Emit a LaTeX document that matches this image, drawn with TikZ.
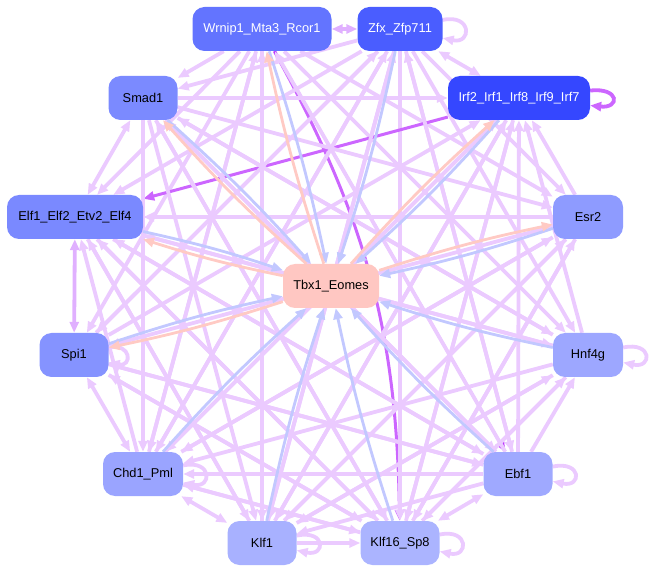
\documentclass[tikz,border=0pt]{standalone}
\usepackage{fontspec}
\setmainfont{Liberation Sans}
\usetikzlibrary{arrows.meta}

\definecolor{edgec}{HTML}{EBCAFF}
\definecolor{edged}{HTML}{E0B0FF}
\definecolor{blueedge}{HTML}{C2C8FF}
\definecolor{pinkedge}{HTML}{FFCAC4}
\definecolor{strongedge}{HTML}{BB33FF}
\definecolor{midedge}{HTML}{CC66FF}
\definecolor{wrnipc}{HTML}{6374FF}
\definecolor{zfxc}{HTML}{4A5DFF}
\definecolor{irfc}{HTML}{3547FF}
\definecolor{smadc}{HTML}{7B8AFF}
\definecolor{elfc}{HTML}{7A89FF}
\definecolor{esrc}{HTML}{8E9BFF}
\definecolor{tbxc}{HTML}{FFC7C2}
\definecolor{spic}{HTML}{8593FF}
\definecolor{hnfc}{HTML}{9DA7FF}
\definecolor{chdc}{HTML}{9AA4FF}
\definecolor{ebfc}{HTML}{9FA9FF}
\definecolor{klfAc}{HTML}{A8B1FF}
\definecolor{klfBc}{HTML}{ABB4FF}

\pgfdeclarelayer{background}
\pgfsetlayers{background,main}

\tikzset{
  tf/.style={rounded corners=12pt, minimum height=44pt, inner sep=0pt, font=\fontsize{12.8}{15}\selectfont},
  e/.style={draw=edgec, line width=3.8pt, -{Triangle[length=11pt,width=9pt]}},
  eb/.style={e, {Triangle[length=11pt,width=9pt]}-{Triangle[length=11pt,width=9pt]}},
  toT/.style={e, draw=blueedge, line width=2.8pt, bend left=3},
  fromT/.style={e, draw=pinkedge, line width=2.8pt, bend left=3},
  selfloop/.style={e, loop, out=12, in=-12, min distance=30pt},
}

\begin{document}
\begin{tikzpicture}[x=1pt,y=-1pt]
  \useasboundingbox (0,0) rectangle (654,572);
  \node[tf,minimum width=139pt,fill=wrnipc,text=white] (wrnip) at (262,29) {Wrnip1\_Mta3\_Rcor1};
  \node[tf,minimum width=85pt,fill=zfxc,text=white] (zfx) at (400,29) {Zfx\_Zfp711};
  \node[tf,minimum width=142pt,fill=irfc,text=white] (irf) at (519,98) {Irf2\_Irf1\_Irf8\_Irf9\_Irf7};
  \node[tf,minimum width=69pt,fill=smadc] (smad) at (143,98) {Smad1};
  \node[tf,minimum width=136pt,fill=elfc] (elf) at (75,217) {Elf1\_Elf2\_Etv2\_Elf4};
  \node[tf,minimum width=70pt,fill=esrc] (esr) at (588,217) {Esr2};
  \node[tf,minimum width=96pt,fill=tbxc] (tbx) at (331,286) {Tbx1\_Eomes};
  \node[tf,minimum width=69pt,fill=spic] (spi) at (74,355) {Spi1};
  \node[tf,minimum width=70pt,fill=hnfc] (hnf) at (588,355) {Hnf4g};
  \node[tf,minimum width=80pt,fill=chdc] (chd) at (143,474) {Chd1\_Pml};
  \node[tf,minimum width=69pt,fill=ebfc] (ebf) at (518,474) {Ebf1};
  \node[tf,minimum width=69pt,fill=klfAc] (klfA) at (262,543) {Klf1};
  \node[tf,minimum width=79pt,fill=klfBc] (klfB) at (400,543) {Klf16\_Sp8};
  %
  \begin{pgfonlayer}{background}
  % Wrnip1_Mta3_Rcor1
  \draw[eb,draw=edged] (wrnip) -- (zfx);
  \draw[e] (wrnip) -- (smad);
  \draw[e] (wrnip) -- (elf);
  \draw[e] (wrnip) -- (spi);
  \draw[e] (wrnip) -- (chd);
  \draw[e] (wrnip) -- (klfA);
  \draw[e] (wrnip) -- (esr);
  \draw[e] (wrnip) -- (hnf);
  \draw[e,draw=midedge,line width=3pt] (wrnip) to[bend left=14] (klfB);
  \draw[e,draw=strongedge,line width=2.6pt] (wrnip) -- (ebf);
  % Zfx_Zfp711
  \draw[eb] (zfx) -- (irf);
  \draw[e] (zfx) -- (smad);
  \draw[e] (zfx) -- (elf);
  \draw[e] (zfx) -- (spi);
  \draw[e] (zfx) -- (chd);
  \draw[e] (zfx) -- (klfA);
  \draw[e] (zfx) -- (klfB);
  \draw[e] (zfx) -- (ebf);
  \draw[e] (zfx) -- (esr);
  \draw[e] (zfx) -- (hnf);
  \draw[selfloop] (zfx) to (zfx);
  % Irf2_Irf1_Irf8_Irf9_Irf7
  \draw[e,draw=midedge,line width=3pt] (irf) -- (elf);
  \draw[e] (irf) -- (chd);
  \draw[e] (irf) -- (klfA);
  \draw[e] (irf) -- (klfB);
  \draw[selfloop,draw=midedge,out=6,in=-6] (irf) to (irf);
  % Smad1
  \draw[e] (smad) -- (irf);
  \draw[e] (smad) -- (esr);
  \draw[e] (smad) -- (hnf);
  \draw[e] (smad) -- (chd);
  \draw[e] (smad) -- (klfA);
  \draw[e] (smad) -- (klfB);
  \draw[e] (smad) -- (ebf);
  \draw[eb] (smad) -- (elf);
  % Elf1_Elf2_Etv2_Elf4
  \draw[e] (elf) -- (hnf);
  \draw[e] (elf) -- (klfA);
  \draw[e] (elf) -- (klfB);
  \draw[e] (elf) -- (ebf);
  \draw[eb,draw=edged] (elf) -- (spi);
  % Esr2
  \draw[e] (esr) -- (elf);
  \draw[e] (esr) -- (irf);
  \draw[e] (esr) -- (spi);
  \draw[e] (esr) -- (chd);
  \draw[e] (esr) -- (klfA);
  \draw[e] (esr) -- (klfB);
  % Spi1
  \draw[e] (spi) -- (irf);
  \draw[e] (spi) -- (zfx);
  \draw[e] (spi) -- (klfB);
  \draw[e] (spi) -- (ebf);
  \draw[eb] (spi) -- (chd);
  \draw[selfloop,min distance=24pt] (spi) to (spi);
  % Hnf4g
  \draw[e] (hnf) -- (elf);
  \draw[e] (hnf) -- (chd);
  \draw[e] (hnf) -- (klfA);
  \draw[e] (hnf) -- (klfB);
  \draw[e] (hnf) -- (irf);
  \draw[e] (hnf) -- (smad);
  \draw[selfloop] (hnf) to (hnf);
  % Chd1_Pml
  \draw[e] (chd) -- (wrnip);
  \draw[e] (chd) -- (zfx);
  \draw[e] (chd) -- (irf);
  \draw[e] (chd) -- (elf);
  \draw[e] (chd) -- (esr);
  \draw[e] (chd) -- (klfB);
  \draw[eb] (chd) -- (klfA);
  \draw[selfloop] (chd) to (chd);
  % Ebf1
  \draw[e] (ebf) -- (wrnip);
  \draw[e] (ebf) -- (zfx);
  \draw[e] (ebf) -- (irf);
  \draw[e] (ebf) -- (elf);
  \draw[e] (ebf) -- (smad);
  \draw[e] (ebf) -- (spi);
  \draw[e] (ebf) -- (chd);
  \draw[e] (ebf) -- (klfA);
  \draw[e] (ebf) -- (hnf);
  \draw[eb] (ebf) -- (klfB);
  \draw[selfloop] (ebf) to (ebf);
  % Klf1
  \draw[e] (klfA) -- (wrnip);
  \draw[e] (klfA) -- (zfx);
  \draw[e] (klfA) -- (irf);
  \draw[e] (klfA) -- (esr);
  \draw[e] (klfA) -- (hnf);
  \draw[e] (klfA) -- (elf);
  \draw[e] (klfA) -- (klfB);
  \draw[selfloop] (klfA) to (klfA);
  % Klf16_Sp8
  \draw[e] (klfB) -- (irf);
  \draw[e] (klfB) -- (smad);
  \draw[e] (klfB) -- (elf);
  \draw[e] (klfB) -- (esr);
  \draw[e] (klfB) -- (hnf);
  \draw[e] (klfB) -- (chd);
  \draw[e] (klfB) -- (spi);
  \draw[selfloop] (klfB) to (klfB);
  % into and out of Tbx1_Eomes
  \draw[toT] (smad) to (tbx);
  \draw[toT] (wrnip) to (tbx);
  \draw[toT] (zfx) to (tbx);
  \draw[toT] (irf) to (tbx);
  \draw[toT] (elf) to (tbx);
  \draw[toT] (esr) to (tbx);
  \draw[toT] (spi) to (tbx);
  \draw[toT] (hnf) to (tbx);
  \draw[toT] (chd) to (tbx);
  \draw[toT] (klfA) to (tbx);
  \draw[toT] (klfB) to (tbx);
  \draw[toT] (ebf) to (tbx);
  \draw[fromT] (tbx) to (wrnip);
  \draw[fromT] (tbx) to (smad);
  \draw[fromT] (tbx) to (irf);
  \draw[fromT] (tbx) to (elf);
  \draw[fromT] (tbx) to (spi);
  \draw[fromT] (tbx) to (esr);
  \draw[fromT,loop,out=10,in=-10,min distance=22pt] (tbx) to (tbx);
  \end{pgfonlayer}
\end{tikzpicture}
\end{document}
